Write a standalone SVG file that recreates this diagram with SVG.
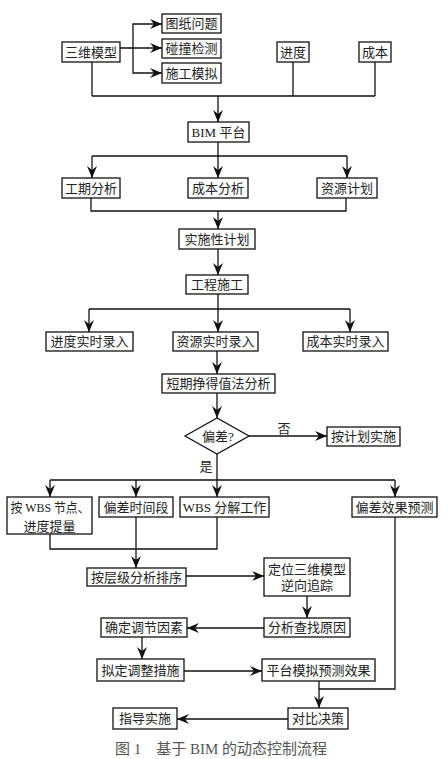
<svg xmlns="http://www.w3.org/2000/svg" width="448" height="759" viewBox="0 0 448 759">
<style>
.b{fill:#fff;stroke:#111;stroke-width:1.3}
.t{font-family:"Liberation Serif","Noto Sans CJK SC",serif;font-size:13px;fill:#222;text-anchor:middle;dominant-baseline:central}
.c{fill:none;stroke:#111;stroke-width:1.3}
.a{marker-end:url(#ar)}
.cap{font-family:"Liberation Serif","Noto Sans CJK SC",serif;font-size:15px;fill:#555;text-anchor:middle;dominant-baseline:central}
</style>
<defs>
<marker id="ar" viewBox="0 0 12 10" refX="12" refY="5" markerWidth="12" markerHeight="10" markerUnits="userSpaceOnUse" orient="auto">
<path d="M0,0 L12,5 L0,10 L4,5 z" fill="#111"/>
</marker>
</defs>
<rect width="448" height="759" fill="#fff"/>
<g id="connectors">
<path class="c a" d="M120,48 H162"/>
<path class="c a" d="M133,48 V24 H162"/>
<path class="c a" d="M133,48 V73 H162"/>
<path class="c" d="M92,62 V96 M293,62 V96 M375,62 V96 M92,96 H375"/>
<path class="c a" d="M218,96 V122"/>
<path class="c" d="M218,142 V156 M92,156 H347"/>
<path class="c a" d="M92,156 V178"/>
<path class="c a" d="M218,156 V178"/>
<path class="c a" d="M347,156 V178"/>
<path class="c" d="M91,198 V211 H346 V198"/>
<path class="c a" d="M218,211 V229"/>
<path class="c a" d="M218,249 V275"/>
<path class="c" d="M218,294 V309 M89,309 H350"/>
<path class="c a" d="M89,309 V332"/>
<path class="c a" d="M218,309 V332"/>
<path class="c a" d="M350,309 V332"/>
<path class="c a" d="M217,351 V374"/>
<path class="c a" d="M217,393 V418"/>
<path class="c a" d="M249,436 H327"/>
<path class="c" d="M217,454 V480 M50,480 H395"/>
<path class="c a" d="M50,480 V497"/>
<path class="c a" d="M136,480 V497"/>
<path class="c a" d="M217,480 V497"/>
<path class="c a" d="M395,480 V497"/>
<path class="c" d="M50,534 V549 H217 V517"/>
<path class="c a" d="M136,517 V568"/>
<path class="c a" d="M186,576 H264"/>
<path class="c a" d="M307,596 V618"/>
<path class="c a" d="M264,628 H187"/>
<path class="c a" d="M142,637 V659"/>
<path class="c a" d="M184,671 H262"/>
<path class="c" d="M395,517 V689 H319"/>
<path class="c a" d="M319,681 V708"/>
<path class="c a" d="M288,719 H177"/>
<text class="t" x="284" y="428">否</text>
<text class="t" x="206" y="466">是</text>
</g>
<g id="n1"><rect class="b" x="62" y="42" width="58" height="20"/><text class="t" x="91" y="52">三维模型</text></g>
<g id="n2"><rect class="b" x="162" y="14" width="59" height="19"/><text class="t" x="191.5" y="23.5">图纸问题</text></g>
<g id="n3"><rect class="b" x="162" y="39" width="59" height="19"/><text class="t" x="191.5" y="48.5">碰撞检测</text></g>
<g id="n4"><rect class="b" x="162" y="63" width="59" height="20"/><text class="t" x="191.5" y="73">施工模拟</text></g>
<g id="n5"><rect class="b" x="277" y="42" width="32" height="20"/><text class="t" x="293" y="52">进度</text></g>
<g id="n6"><rect class="b" x="359" y="42" width="32" height="20"/><text class="t" x="375" y="52">成本</text></g>
<g id="n7"><rect class="b" x="188" y="122" width="61" height="20"/><text class="t" x="218.5" y="132">BIM 平台</text></g>
<g id="n8"><rect class="b" x="62" y="178" width="58" height="20"/><text class="t" x="91" y="188">工期分析</text></g>
<g id="n9"><rect class="b" x="188" y="178" width="60" height="20"/><text class="t" x="218" y="188">成本分析</text></g>
<g id="n10"><rect class="b" x="317" y="178" width="60" height="20"/><text class="t" x="347" y="188">资源计划</text></g>
<g id="n11"><rect class="b" x="179" y="229" width="76" height="20"/><text class="t" x="217" y="239">实施性计划</text></g>
<g id="n12"><rect class="b" x="186" y="275" width="62" height="19"/><text class="t" x="217" y="284.5">工程施工</text></g>
<g id="n13"><rect class="b" x="46" y="332" width="87" height="19"/><text class="t" x="89.5" y="341.5">进度实时录入</text></g>
<g id="n14"><rect class="b" x="173" y="332" width="85" height="19"/><text class="t" x="215.5" y="341.5">资源实时录入</text></g>
<g id="n15"><rect class="b" x="303" y="332" width="85" height="19"/><text class="t" x="345.5" y="341.5">成本实时录入</text></g>
<g id="n16"><rect class="b" x="162" y="374" width="113" height="19"/><text class="t" x="218.5" y="383.5">短期挣得值法分析</text></g>
<g id="n17"><polygon class="b" points="185,436 217,418 249,436 217,454"/><text class="t" x="218" y="436">偏差?</text></g>
<g id="n18"><rect class="b" x="327" y="427" width="73" height="19"/><text class="t" x="363.5" y="436.5">按计划实施</text></g>
<g id="n19"><rect class="b" x="7" y="497" width="85" height="37"/><text class="t" x="50" y="507" textLength="79" lengthAdjust="spacingAndGlyphs">按 WBS 节点、</text><text class="t" x="49.5" y="526">进度提量</text></g>
<g id="n20"><rect class="b" x="99" y="497" width="74" height="20"/><text class="t" x="136" y="507">偏差时间段</text></g>
<g id="n21"><rect class="b" x="180" y="497" width="89" height="20"/><text class="t" x="224.5" y="507">WBS 分解工作</text></g>
<g id="n22"><rect class="b" x="352" y="497" width="85" height="20"/><text class="t" x="394.5" y="507">偏差效果预测</text></g>
<g id="n23"><rect class="b" x="87" y="568" width="99" height="18"/><text class="t" x="136.5" y="577">按层级分析排序</text></g>
<g id="n24"><rect class="b" x="264" y="558" width="86" height="38"/><text class="t" x="307" y="569">定位三维模型</text><text class="t" x="307" y="585">逆向追踪</text></g>
<g id="n25"><rect class="b" x="264" y="618" width="86" height="19"/><text class="t" x="307" y="627.5">分析查找原因</text></g>
<g id="n26"><rect class="b" x="101" y="618" width="86" height="19"/><text class="t" x="144" y="627.5">确定调节因素</text></g>
<g id="n27"><rect class="b" x="97" y="659" width="87" height="22"/><text class="t" x="140.5" y="670">拟定调整措施</text></g>
<g id="n28"><rect class="b" x="262" y="659" width="113" height="22"/><text class="t" x="318.5" y="670">平台模拟预测效果</text></g>
<g id="n29"><rect class="b" x="288" y="708" width="60" height="21"/><text class="t" x="318" y="718.5">对比决策</text></g>
<g id="n30"><rect class="b" x="113" y="708" width="64" height="21"/><text class="t" x="145" y="718.5">指导实施</text></g>
<text class="cap" x="221" y="749">图 1　基于 BIM 的动态控制流程</text>
</svg>
